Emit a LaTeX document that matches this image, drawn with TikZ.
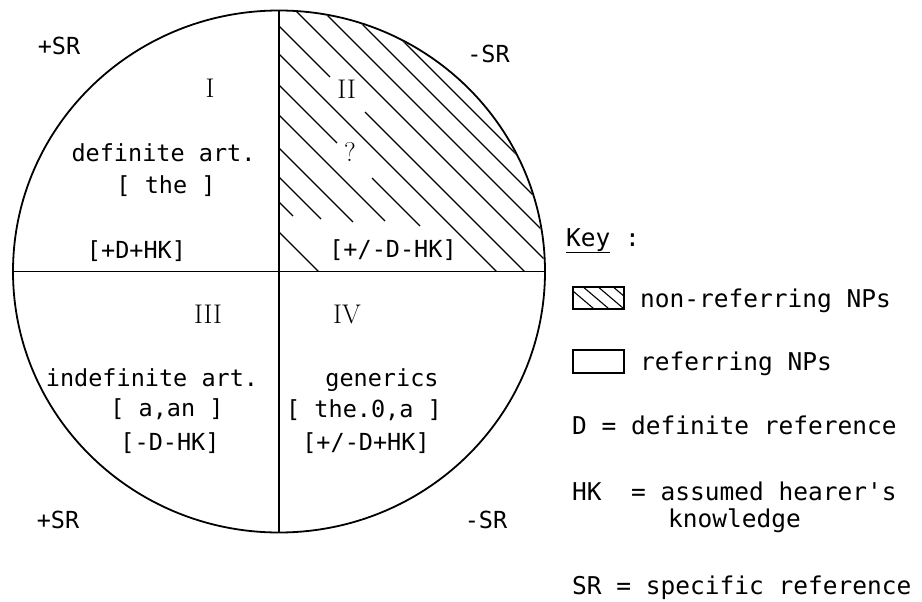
\documentclass[tikz,border=0pt]{standalone}
\usepackage{fontspec}
\setmonofont{DejaVu Sans Mono}
\usepackage{tikz}
\usetikzlibrary{calc}

\tikzset{
  txt/.style={font=\ttfamily\fontsize{23.5}{28}\selectfont, inner sep=0pt, anchor=base},
  keytxt/.style={font=\ttfamily\fontsize{24.5}{29}\selectfont, inner sep=0pt, anchor=base west},
  numeral/.style={font=\rmfamily\fontsize{27}{32}\selectfont, inner sep=0pt, anchor=base},
  hatch/.style={line width=1.1pt},
}

\begin{document}
\begin{tikzpicture}[x=1pt, y=-1pt]
    \useasboundingbox (0,0) rectangle (922,602);
    % Circle and the two axes
    \coordinate (O) at (279,271.5);
    \coordinate (top) at (279,10.5);
    \coordinate (bot) at (279,532.5);
    \coordinate (lft) at (13,271.5);
    \coordinate (rgt) at (545,271.5);
    \draw[line width=1.8pt] (O) ellipse [x radius=266pt, y radius=261pt];
    \draw[line width=1.3pt] (top) -- (bot);
    \draw[line width=1.3pt] (lft) -- (rgt);

    % Hatching of quadrant II: lines y = x + c, broken round the labels
    \begin{scope}
        \clip (O) rectangle (560,0);
        \clip (O) ellipse [x radius=265pt, y radius=260pt];
        \foreach \c/\a/\b in {-362/279/560, -338/279/560, -312/279/560, -285/279/560,
                              -253/279/330, -253/365/560, -225/279/560,
                              -194/279/337, -194/372/420, -164/279/385, -131/279/353,
                              -102/279/321, -77/279/293, -47/279/330}
            \draw[hatch] (\a,{\a+(\c)}) -- (\b,{\b+(\c)});
    \end{scope}

    % Quadrant I
    \node[txt] (srA) at (59,55) {+SR};
    \node[numeral] (qI) at (210,98) {I};
    \node[txt] (defart) at (163.5,161.7) {definite art.};
    \node[txt] (the) at (166,193) {[ the ]};
    \node[txt] (featI) at (136.5,258) {[+D+HK]};

    % Quadrant II
    \node[txt] (srB) at (488.5,63) {-SR};
    \node[numeral] (qII) at (346.7,98.3) {II};
    \node[numeral] (qmark) at (350,161.7) {?};
    \node[txt] (featII) at (393,257) {[+/-D-HK]};

    % Quadrant III
    \node[numeral] (qIII) at (208,323.3) {III};
    \node[txt] (indefart) at (152,386) {indefinite art.};
    \node[txt] (aan) at (167,416) {[ a,an ]};
    \node[txt] (featIII) at (170,450) {[-D-HK]};
    \node[txt] (srC) at (58,528) {+SR};

    % Quadrant IV
    \node[numeral] (qIV) at (347,323.3) {IV};
    \node[txt] (gen) at (382,386) {generics};
    \node[txt] (thea) at (364,417) {[ the.0,a ]};
    \node[txt] (featIV) at (366,450) {[+/-D+HK]};
    \node[txt] (srD) at (486,528) {-SR};

    % Key
    \node[keytxt] (key) at (566,246) {\underline{Key} :};
    \draw[line width=1.2pt] (573,287) rectangle (624,309);
    \begin{scope}
        \clip (573,287) rectangle (624,309);
        \foreach \s in {560,575,590,605,620}
            \draw[hatch] (\s,280) -- (\s+40,314);
    \end{scope}
    \node[keytxt] (nonref) at (640,307) {non-referring NPs};
    \draw[line width=1.2pt] (573,350) rectangle (624,373);
    \node[keytxt] (ref) at (640,370) {referring NPs};
    \node[keytxt] (dref) at (572,434) {D = definite reference};
    \node[keytxt] (hk) at (572,500) {HK\ \ = assumed hearer's};
    \node[keytxt] (know) at (668,527) {knowledge};
    \node[keytxt] (sr) at (572,594) {SR = specific reference};
\end{tikzpicture}
\end{document}
